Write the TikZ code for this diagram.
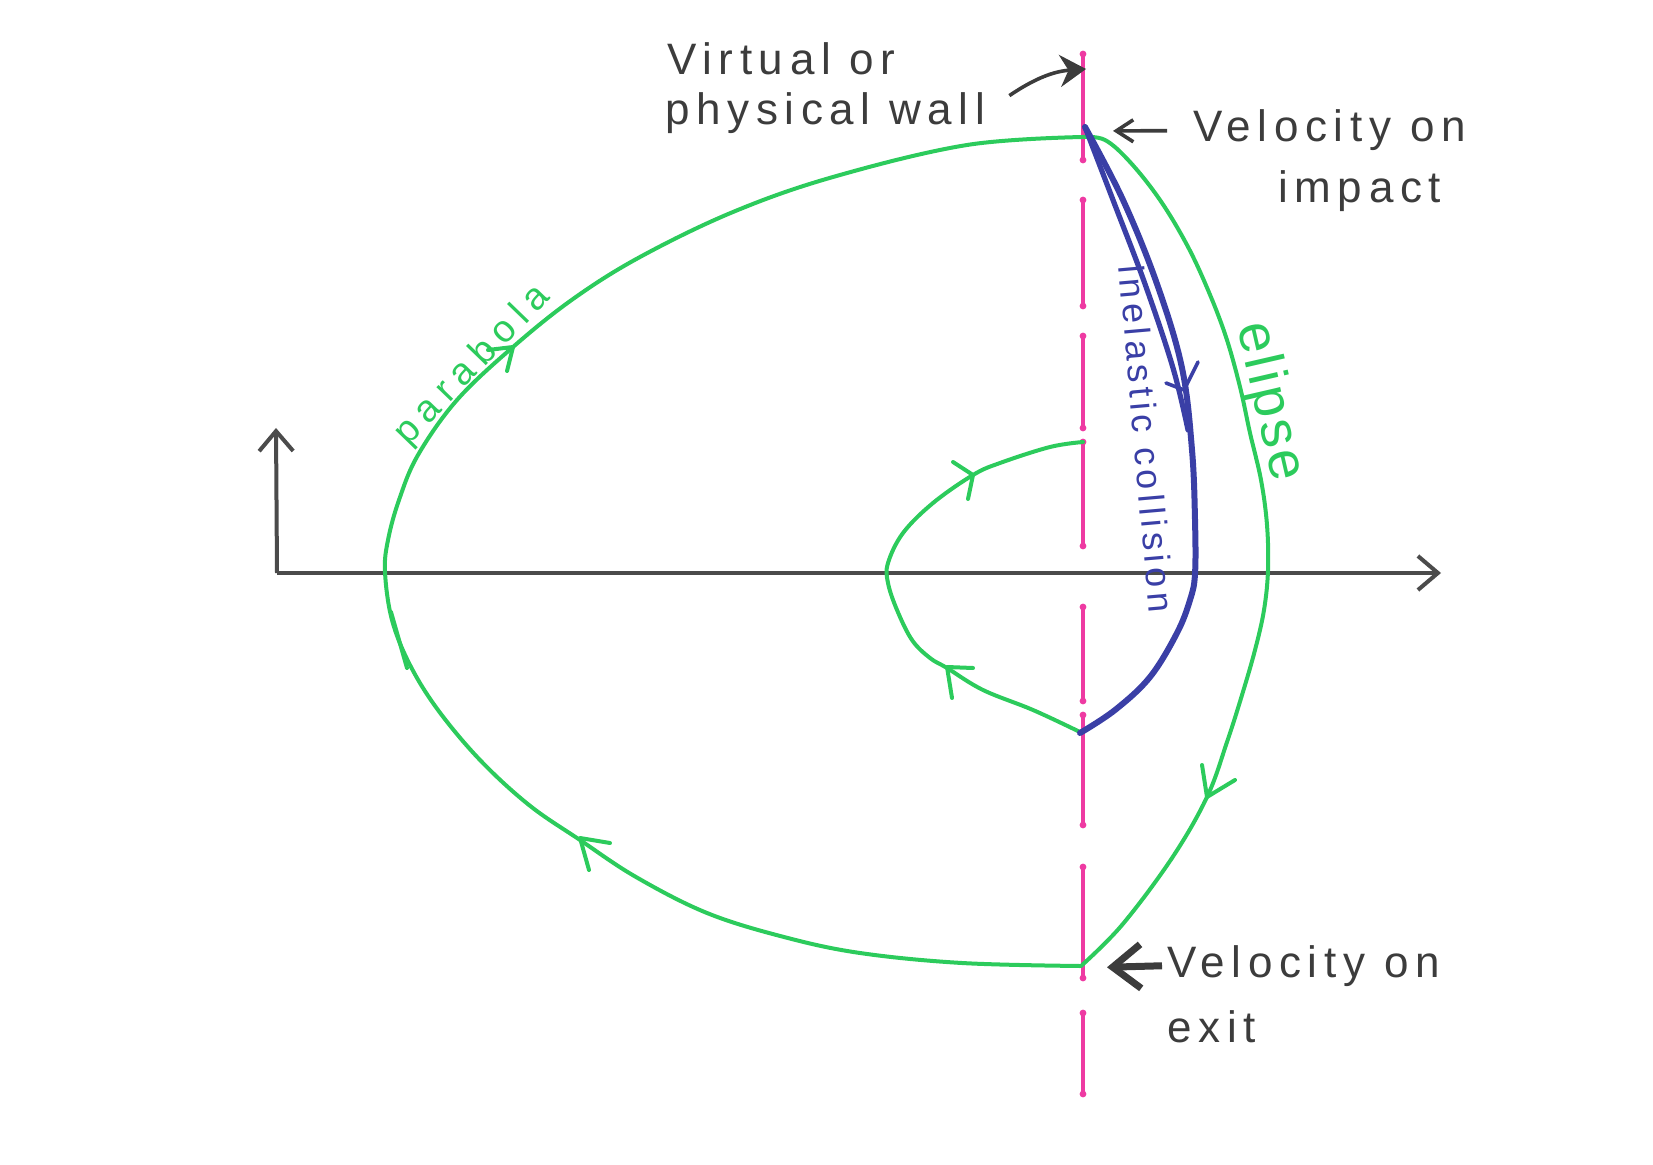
\documentclass[tikz,border=0pt]{standalone}
\usepackage{fontspec}
\setmainfont{Liberation Sans}
\newfontfamily\handA[LetterSpace=15]{Liberation Sans}
\newfontfamily\handB[LetterSpace=22]{Liberation Sans}
\newfontfamily\handC[LetterSpace=13]{Liberation Sans}
\newfontfamily\handD[LetterSpace=6]{Liberation Sans}
\usetikzlibrary{arrows.meta}
\definecolor{pen}{HTML}{2CCB5C}
\definecolor{bluepen}{HTML}{3A3FA6}
\definecolor{wallc}{HTML}{EE3AA2}
\definecolor{ink}{HTML}{3C3C3C}
\definecolor{axisc}{HTML}{4B4B4B}
\begin{document}
\begin{tikzpicture}[x=0.5pt,y=-0.5pt,
  curve/.style={draw=pen, line width=2pt, line cap=round, line join=round},
  bcurve/.style={draw=bluepen, line width=3pt, line cap=round, line join=round},
  chev/.style={draw=pen, line width=2pt, line cap=round, line join=round},
  bchev/.style={draw=bluepen, line width=1.8pt, line cap=round, line join=round},
  wallseg/.style={draw=wallc, line width=1.6pt, line cap=round},
  axisline/.style={draw=axisc, line width=2pt, -{Straight Barb[length=10pt,width=17pt]}},
  hand/.style={inner sep=0pt, text=ink},
  lblarrow/.style={draw=ink, line width=1.8pt},
]
\useasboundingbox (0,0) rectangle (1653,1165);

% axes
\coordinate (O) at (277,573);
\coordinate (X) at (1441,573);
\coordinate (Y) at (276,428);
\draw[axisline] (O) -- (X);
\draw[axisline] (O) -- (Y);

% wall (dashed, irregular)
\foreach \a/\b in {54/160, 200/306, 336/428, 442/546, 607/701, 715/825, 867/978, 1013/1094}{
  \draw[wallseg] (1083,\a) -- (1083,\b);
  \fill[wallc] (1083,\a) circle[radius=1.7pt];
  \fill[wallc] (1083,\b) circle[radius=1.7pt];
}

% outer parabola (left)
\draw[curve] plot[smooth, tension=0.6] coordinates {
 (1083,137) (967,145) (833,177) (733,212) (640,257) (573,299) (513,347)
 (457,400) (418,455) (399,500) (388,540) (385,572) (392,620) (410,665)
 (438,710) (480,760) (529,805) (580,840) (636,877) (707,913) (784,937)
 (860,953) (962,963) (1080,966)};
\draw[curve] (391,612) -- (407,668);

% ellipse (right)
\draw[curve] plot[smooth, tension=0.6] coordinates {
 (1083,137) (1105,140) (1130,162) (1160,200) (1187,245) (1208,290) (1226,337)
 (1240,387) (1250,433) (1261,480) (1267,525) (1268,570) (1264,610) (1255,650)
 (1242,695) (1227,742) (1207,797) (1172,858) (1122,925) (1081,966)};

% inner loop
\draw[curve] plot[smooth, tension=0.6] coordinates {
 (1083,442) (1050,447) (1000,463) (973,475) (933,503) (903,533) (888,563)
 (888,583) (897,610) (912,640) (930,658) (947,668) (983,690) (1033,710) (1080,732)};

% inelastic collision (blue)
\draw[bcurve] plot[smooth, tension=0.6] coordinates {
 (1085,127) (1123,200) (1157,284) (1182,368) (1192,450) (1195,520) (1195,574)
 (1190,600) (1177,633) (1150,677) (1115,710) (1080,733)};
\draw[bluepen, line width=2.6pt, line cap=round] plot[smooth, tension=0.6] coordinates {
 (1085,127) (1113,200) (1145,284) (1173,368) (1188,430)};

% direction chevrons
\draw[chev] (488,350) -- (513,347) -- (507,371);
\draw[chev] (953,462) -- (973,475) -- (968,499);
\draw[chev] (973,668) -- (947,667) -- (952,698);
\draw[chev] (610,843) -- (580,838) -- (589,870);
\draw[chev] (1202,765) -- (1207,797) -- (1235,780);
\draw[bchev] (1166,383) -- (1184,390) -- (1198,362);

% labels on curves
\node[font=\handB\fontsize{19}{22}\selectfont, text=pen, inner sep=0pt, anchor=base, rotate=46] (paraLbl) at (480,372) {parabola};
\node[font=\handD\fontsize{27.5}{30}\selectfont, text=pen, inner sep=0pt, anchor=base, rotate=-77] (ellLbl) at (1255,405) {elipse};
\node[font=\handC\fontsize{18}{21}\selectfont, text=bluepen, inner sep=0pt, anchor=base, rotate=-85] (inelLbl) at (1134,440) {inelastic collision};

% wall label
\node[hand, font=\handA\fontsize{22}{27}\selectfont, anchor=base west] (wallLbl1) at (667,75) {Virtual or};
\node[hand, font=\handA\fontsize{22}{27}\selectfont, anchor=base west] (wallLbl2) at (665,125) {physical wall};
\coordinate (wallPt) at (1086,69);
\draw[lblarrow, -{Stealth[length=13pt,width=16pt]}] ([yshift=9pt]wallLbl2.east) ++(12pt,0) to[bend left=15] (wallPt);

% impact label
\node[hand, font=\handA\fontsize{22}{27}\selectfont, anchor=base west] (impLbl1) at (1193,142) {Velocity on};
\node[hand, font=\handA\fontsize{22}{27}\selectfont, anchor=base west] (impLbl2) at (1278,203) {impact};
\coordinate (impact) at (1085,131);
\draw[lblarrow, shorten <=13pt, shorten >=14pt, -{Straight Barb[length=8.5pt,width=11pt]}] (impLbl1.west) -- (impact);

% exit label
\node[hand, font=\handA\fontsize{22}{27}\selectfont, anchor=base west] (exitLbl1) at (1167,977) {Velocity on};
\node[hand, font=\handA\fontsize{22}{27}\selectfont, anchor=base west] (exitLbl2) at (1167,1042) {exit};
\coordinate (exitPt) at (1081,968);
\draw[draw=ink, line width=3.5pt, shorten <=2.5pt, shorten >=13pt, -{Straight Barb[length=14pt,width=22pt]}] (exitLbl1.west) -- (exitPt);
\end{tikzpicture}
\end{document}
